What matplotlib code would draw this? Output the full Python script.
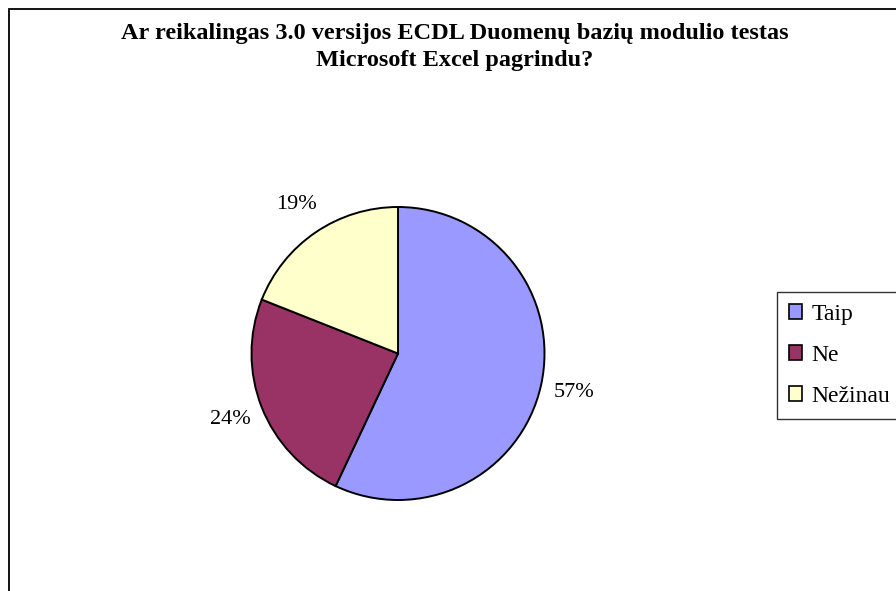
import matplotlib.pyplot as plt
from matplotlib.patches import Rectangle, Patch

labels = ["Taip", "Ne", "Nežinau"]
values = [57, 24, 19]
colors = ["#9999FF", "#993366", "#FFFFCC"]
title = "Ar reikalingas 3.0 versijos ECDL Duomenų bazių modulio testas\nMicrosoft Excel pagrindu?"

plt.rcParams["font.family"] = ["Liberation Serif", "DejaVu Serif"]

W, H = 896, 591
fig = plt.figure(figsize=(W / 100, H / 100), dpi=100)

# chart frame (cut off at right and bottom)
fig.patches.append(Rectangle((9 / W, -0.05), 1.1, 1 - 9 / H + 0.05,
                             transform=fig.transFigure, fill=False,
                             edgecolor="black", linewidth=1.3))

fig.text(455 / W, 1 - 23 / H, title, ha="center", va="top",
         fontsize=17.5, fontweight="bold", linespacing=1.35)

cx, cy, r = 398, 353.5, 146.5
ax = fig.add_axes([(cx - r) / W, 1 - (cy + r) / H, 2 * r / W, 2 * r / H])
wedges, texts, autotexts = ax.pie(
    values, colors=colors, startangle=90, counterclock=False,
    autopct="%1.0f%%", pctdistance=1.23,
    wedgeprops=dict(edgecolor="black", linewidth=1.4),
    textprops=dict(fontsize=16, color="black"))
ax.set_xlim(-1, 1)
ax.set_ylim(-1, 1)
ax.set_aspect("equal")

handles = [Patch(facecolor=c, edgecolor="black", linewidth=1.2) for c in colors]
leg = fig.legend(handles, labels, loc="upper left",
                 bbox_to_anchor=(777 / W, 1 - 292 / H),
                 bbox_transform=fig.transFigure,
                 fontsize=17, frameon=True, fancybox=False,
                 handlelength=0.55, handleheight=0.55, handletextpad=0.4,
                 labelspacing=0.85, borderpad=0.5, borderaxespad=0)
leg.get_frame().set_edgecolor("black")
leg.get_frame().set_linewidth(1.0)

fig.savefig("out.png", dpi=100)
